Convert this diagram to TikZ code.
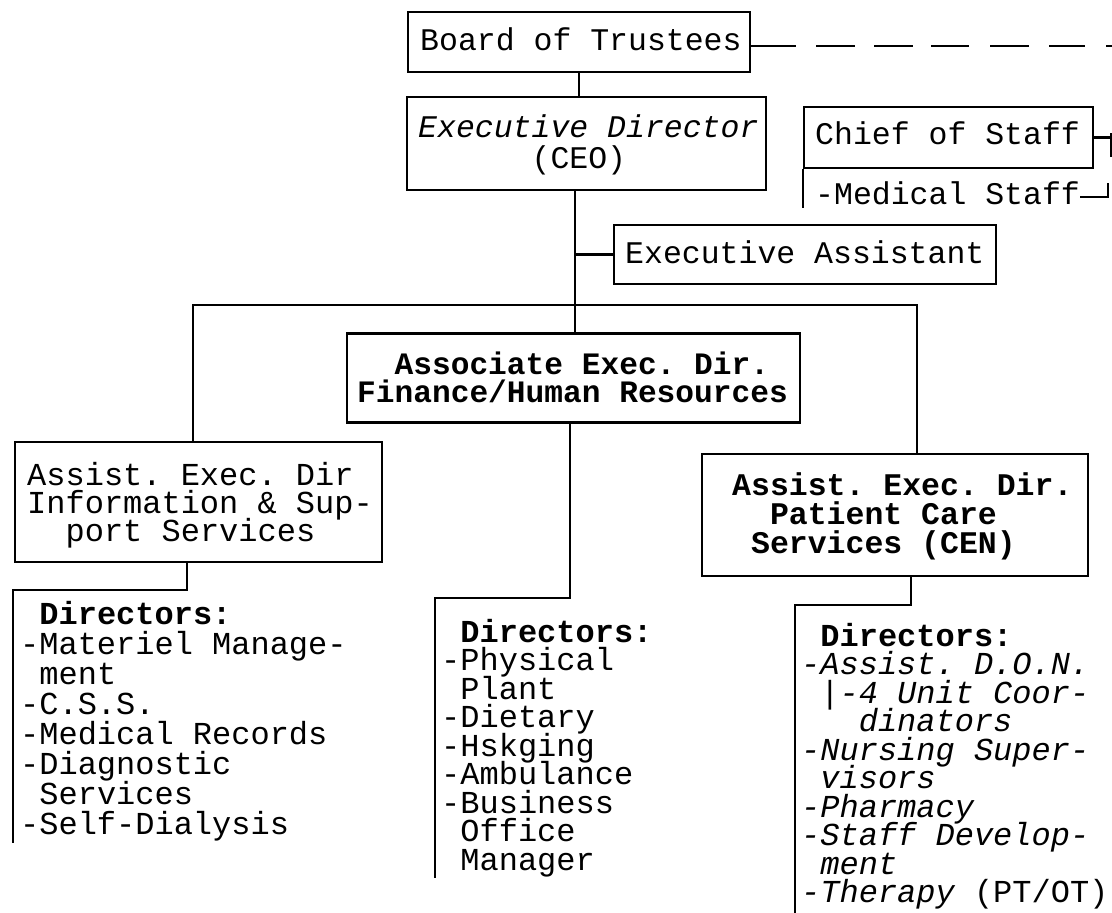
\documentclass[tikz,border=0pt]{standalone}
\usepackage{fontspec}
\setmonofont{Liberation Mono}
\usetikzlibrary{calc}

% stacked lines of monospaced text with a fixed line pitch
\newcommand\orgstack[1]{\vtop{\lineskiplimit=-1000pt\lineskip=0pt\relax #1}}
\newcommand\orgrow[1]{\hbox{#1}}

\tikzset{
  orgbox/.style={draw, rectangle, line width=2.6pt, inner sep=0pt},
  link/.style={line width=2.4pt},
  txt/.style={inner sep=0pt, anchor=base west, font=\ttfamily\fontsize{31.5}{28.5}\selectfont},
  boarddash/.style={dash pattern=on 45pt off 20pt on 39pt off 19pt on 39pt off 18pt on 38pt off 21pt on 39pt off 20pt on 36pt off 21pt on 10pt},
}

\begin{document}
\begin{tikzpicture}[x=1pt,y=-1pt]
\useasboundingbox (0,0) rectangle (1112,913);

% ---- boxes
\node[orgbox, minimum width=342pt, minimum height=60pt]  (board)   at (579,42)    {};
\node[orgbox, minimum width=359pt, minimum height=93pt]  (exec)    at (586.5,143.5) {};
\node[orgbox, minimum width=289pt, minimum height=61pt]  (chief)   at (948.5,137.5) {};
\node[orgbox, minimum width=382pt, minimum height=59pt]  (assist)  at (805,254.5) {};
\node[orgbox, minimum width=453pt, minimum height=89pt]  (assoc)   at (573.5,378) {};
\node[orgbox, minimum width=367pt, minimum height=120pt] (info)    at (198.5,502) {};
\node[orgbox, minimum width=386pt, minimum height=122pt] (patient) at (895,515)   {};

% ---- box texts
\node[txt] (boardtxt) at (420,50) {Board of Trustees};
\node[txt, font=\ttfamily\fontsize{31.5}{31}\selectfont] (exectxt) at (418,137)
  {\orgstack{\orgrow{\itshape Executive Director}\orgrow{~~~~~~(CEO)}}};
\node[txt] (chieftxt) at (815,144) {Chief of Staff};
\node[txt] (medical)  at (815,204) {-Medical Staff};
\node[txt] (assisttxt) at (625,263) {Executive Assistant};
\node[txt, font=\ttfamily\bfseries\fontsize{31.2}{28}\selectfont] (assoctxt) at (357,374)
  {\orgstack{\orgrow{~~Associate Exec. Dir.}\orgrow{Finance/Human Resources}}};
\node[txt, font=\ttfamily\fontsize{32}{28}\selectfont] (infotxt) at (27,485)
  {\orgstack{\orgrow{Assist. Exec. Dir}\orgrow{Information \& Sup-}\orgrow{~~port Services}}};
\node[txt, font=\ttfamily\bfseries\fontsize{31.5}{29}\selectfont] (patienttxt) at (732,495)
  {\orgstack{\orgrow{Assist. Exec. Dir.}\orgrow{~~Patient Care}\orgrow{~Services (CEN)}}};

% ---- director lists
\node[txt, font=\ttfamily\fontsize{32}{30}\selectfont] (leftlist) at (20,624)
  {\orgstack{%
    \orgrow{~\bfseries Directors:}%
    \orgrow{-Materiel Manage-}%
    \orgrow{~ment}%
    \orgrow{-C.S.S.}%
    \orgrow{-Medical Records}%
    \orgrow{-Diagnostic}%
    \orgrow{~Services}%
    \orgrow{-Self-Dialysis}}};
\node[txt, font=\ttfamily\fontsize{32}{28.5}\selectfont] (midlist) at (441,642)
  {\orgstack{%
    \orgrow{~\bfseries Directors:}%
    \orgrow{-Physical}%
    \orgrow{~Plant}%
    \orgrow{-Dietary}%
    \orgrow{-Hskging}%
    \orgrow{-Ambulance}%
    \orgrow{-Business}%
    \orgrow{~Office}%
    \orgrow{~Manager}}};
\node[txt, font=\ttfamily\fontsize{32}{28.5}\selectfont] (rightlist) at (801,646)
  {\orgstack{%
    \orgrow{~\bfseries Directors:}%
    \orgrow{\itshape-Assist. D.O.N.}%
    \orgrow{~|\itshape-4 Unit Coor-}%
    \orgrow{\itshape~~~dinators}%
    \orgrow{\itshape-Nursing Super-}%
    \orgrow{\itshape~visors}%
    \orgrow{\itshape-Pharmacy}%
    \orgrow{\itshape-Staff Develop-}%
    \orgrow{\itshape~ment}%
    \orgrow{\itshape-Therapy \upshape(PT/OT)}}};

% ---- connectors
\coordinate (trunk) at (575,0);
\coordinate (rightEdge) at (1112,0);
\coordinate (dashEnd) at (1112,46);
\draw[link, boarddash] (board.east |- dashEnd) -- (dashEnd);
\draw[link] (board.south) -- (board.south |- exec.north);
\draw[link] (exec.south -| trunk) -- (assoc.north -| trunk);
\draw[link] (trunk |- assist.west) -- (assist.west);

\draw[link] (chief.east) -- (chief.east -| rightEdge);
\coordinate (staffEnd) at (804,208);
\draw[link] (chief.south west) -- (chief.south west |- staffEnd);
\coordinate (medTurn) at (1108,197);
\coordinate (medTop) at (1108,183);
\draw[link] (medical.base east |- medTurn) -- (medTurn) -- (medTop);
\coordinate (edgeTickA) at (1111,133);
\coordinate (edgeTickB) at (1111,157);
\draw[link] (edgeTickA) -- (edgeTickB);

\coordinate (barL) at (193,305);
\coordinate (barR) at (917,305);
\draw[link] (info.north -| barL) -- (barL) -- (barR) -- (patient.north -| barR);

\coordinate (infoDrop) at (187,590);
\coordinate (leftEnd) at (13,843);
\draw[link] (info.south -| infoDrop) -- (infoDrop) -- (infoDrop -| leftEnd) -- (leftEnd);

\coordinate (assocDrop) at (570,598);
\coordinate (midEnd) at (435,878);
\draw[link] (assoc.south -| assocDrop) -- (assocDrop) -- (assocDrop -| midEnd) -- (midEnd);

\coordinate (patDrop) at (911,605);
\coordinate (rightEnd) at (795,913);
\draw[link] (patient.south -| patDrop) -- (patDrop) -- (patDrop -| rightEnd) -- (rightEnd);
\end{tikzpicture}
\end{document}
